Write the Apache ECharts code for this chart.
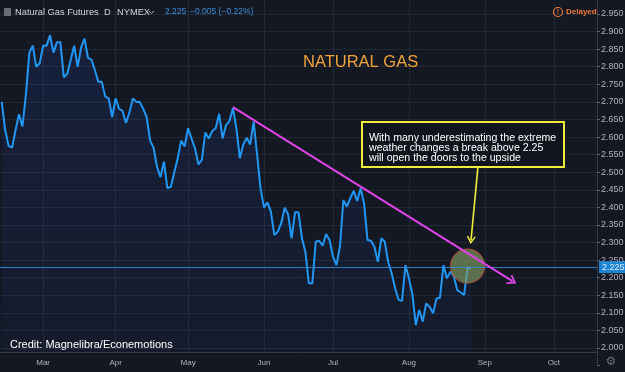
<!DOCTYPE html>
<html><head><meta charset="utf-8">
<script src="https://cdn.jsdelivr.net/npm/echarts@6/dist/echarts.min.js"></script>
<style>html,body{margin:0;padding:0;background:#141823;}#c{width:625px;height:372px;}</style>
</head><body><div id="c"></div>
<script>
// ---- data ----
const startDate = '2019-02-12';
const holidays = ['2019-02-18','2019-04-19','2019-05-27','2019-07-04','2019-09-02'];
const totalBars = 173;
const monthNames = ['Jan','Feb','Mar','Apr','May','Jun','Jul','Aug','Sep','Oct','Nov','Dec'];
const prices = [
  2.700, 2.620, 2.575, 2.570, 2.620, 2.665, 2.630, 2.720, 2.840, 2.860,
  2.800, 2.810, 2.860, 2.860, 2.890, 2.840, 2.870, 2.870, 2.770, 2.780,
  2.820, 2.860, 2.800, 2.855, 2.880, 2.825, 2.820, 2.790, 2.757, 2.757,
  2.715, 2.710, 2.657, 2.710, 2.680, 2.675, 2.640, 2.670, 2.710, 2.700,
  2.700, 2.680, 2.657, 2.590, 2.570, 2.515, 2.486, 2.530, 2.455, 2.458,
  2.500, 2.540, 2.590, 2.573, 2.625, 2.596, 2.568, 2.522, 2.535, 2.613,
  2.596, 2.617, 2.625, 2.666, 2.596, 2.634, 2.646, 2.682, 2.625, 2.540,
  2.579, 2.598, 2.579, 2.644, 2.550, 2.454, 2.400, 2.414, 2.388, 2.321,
  2.331, 2.355, 2.399, 2.380, 2.312, 2.386, 2.386, 2.312, 2.274, 2.184,
  2.184, 2.302, 2.305, 2.291, 2.324, 2.307, 2.260, 2.236, 2.288, 2.421,
  2.402, 2.426, 2.447, 2.418, 2.454, 2.412, 2.307, 2.305, 2.288, 2.245,
  2.312, 2.302, 2.244, 2.212, 2.170, 2.137, 2.134, 2.236, 2.198, 2.153,
  2.065, 2.108, 2.075, 2.127, 2.117, 2.099, 2.141, 2.143, 2.236, 2.198,
  2.217, 2.205, 2.165, 2.158, 2.151, 2.230, 2.225
];
const lastPrice = 2.225;
const lastPriceText = '2.225';
const changeText = '\u22120.005 (\u22120.22%)';
const yMin = 1.95, yMax = 3.0, yStep = 0.05;
const trendLine = [['2019-05-20', 2.685], ['2019-09-13', 2.19]];
const focusPoint = ['2019-08-26', 2.233];
const calloutArrow = [['2019-08-29', 2.515], ['2019-08-27', 2.307]];
const calloutText = 'With many underestimating the extreme\nweather changes a break above 2.25\nwill open the doors to the upside';

// ---- calendar of trading days ----
function buildDates() {
  const out = [];
  const d = new Date(startDate + 'T00:00:00Z');
  while (out.length < totalBars) {
    const dow = d.getUTCDay();
    const s = d.toISOString().slice(0, 10);
    if (dow !== 0 && dow !== 6 && holidays.indexOf(s) < 0) out.push(s);
    d.setUTCDate(d.getUTCDate() + 1);
  }
  return out;
}
const dates = buildDates();
const monthStart = dates.map((s, i) => i > 0 && s.slice(5, 7) !== dates[i - 1].slice(5, 7));
const isMonthStart = (i) => !!monthStart[i];

const bg = '#141823', gridC = '#232835', axisC = '#363a45', txtC = '#b2b5be';
const chevron = 'path://M5,0 L10,9 L8.6,10 L5,3.6 L1.4,10 L0,9 Z';
const hdrFont = {fontSize: 9.3, fontFamily: 'Liberation Sans', verticalAlign: 'middle'};

const chart = echarts.init(document.getElementById('c'), null, {renderer: 'canvas'});
chart.setOption({
  animation: false,
  backgroundColor: bg,
  grid: {left: 0, right: 28, top: -3.58, bottom: 6.42, containLabel: false, outerBoundsMode: 'none'},
  title: {
    text: 'NATURAL GAS', left: 298, top: 49,
    textStyle: {color: '#f2a33a', fontSize: 16.5, fontWeight: 'normal', fontFamily: 'Liberation Sans'}
  },
  xAxis: [
    {
      type: 'category', data: dates, boundaryGap: true, position: 'top',
      axisLine: {show: false, onZero: false}, axisTick: {show: false}, axisLabel: {show: false},
      splitLine: {show: true, interval: isMonthStart, alignWithLabel: true, lineStyle: {color: gridC, width: 1}}
    },
    {
      type: 'category', data: dates, boundaryGap: true, position: 'bottom', offset: -13.58, z: 11,
      axisLine: {show: true, onZero: false, lineStyle: {color: axisC}},
      axisTick: {show: false}, splitLine: {show: false},
      axisLabel: {
        interval: isMonthStart, margin: 7, color: txtC, fontSize: 8, fontFamily: 'Liberation Sans',
        formatter: (v) => monthNames[parseInt(v.slice(5, 7), 10) - 1]
      }
    }
  ],
  yAxis: {
    type: 'value', position: 'right', min: yMin, max: yMax, interval: yStep,
    axisLine: {show: true, lineStyle: {color: axisC}},
    axisTick: {show: true, length: 3, lineStyle: {color: '#5d616c'}},
    splitLine: {show: true, lineStyle: {color: gridC, width: 1}},
    axisLabel: {
      color: txtC, fontSize: 9, margin: 4, fontFamily: 'Liberation Sans',
      formatter: (v) => (v < 1.99 || v > 2.96) ? '' : v.toFixed(3)
    }
  },
  series: [
    {
      type: 'line', xAxisIndex: 0, z: 2, data: prices, symbol: 'none', silent: true,
      lineStyle: {color: '#2196f3', width: 2},
      areaStyle: {
        origin: 'start',
        color: new echarts.graphic.LinearGradient(0, 0, 0, 1, [
          {offset: 0, color: 'rgba(41,98,255,0.16)'},
          {offset: 1, color: 'rgba(41,98,255,0.05)'}
        ])
      },
      markLine: {
        silent: true, symbol: ['none', 'none'], animation: false,
        data: [
          {
            yAxis: lastPrice, lineStyle: {color: '#2f8fd8', width: 1, type: 'solid', opacity: 0.85},
            label: {
              show: true, position: 'end', distance: 2, formatter: lastPriceText,
              color: '#ffffff', backgroundColor: '#2196f3', fontSize: 9, padding: [2, 3, 1, 3],
              fontFamily: 'Liberation Sans'
            }
          }
        ]
      }
    },
    {
      type: 'scatter', xAxisIndex: 0, z: 3, silent: true,
      data: [focusPoint], symbolSize: 34,
      itemStyle: {color: 'rgba(132,158,100,0.82)', borderColor: '#b0553c', borderWidth: 1.2}
    },
    {
      type: 'line', xAxisIndex: 0, z: 4, data: [], symbol: 'none', silent: true,
      markLine: {
        silent: true, symbol: ['none', 'none'], animation: false,
        data: [
          [
            {coord: trendLine[0], symbol: 'none', lineStyle: {color: '#df45e6', width: 2, type: 'solid'}, label: {show: false}},
            {coord: trendLine[1], symbol: chevron, symbolSize: [11, 9]}
          ],
          [
            {coord: calloutArrow[0], symbol: 'none', lineStyle: {color: '#eeee3a', width: 1.6, type: 'solid'}, label: {show: false}},
            {coord: calloutArrow[1], symbol: chevron, symbolSize: [9, 8]}
          ]
        ]
      }
    }
  ],
  graphic: [
    {type: 'rect', z: 10, shape: {x: 0, y: 352.5, width: 597, height: 20}, style: {fill: bg}},
    {type: 'rect', z: 12, shape: {x: 4, y: 8, width: 7, height: 8}, style: {fill: '#6a6d78'}},
    {type: 'text', z: 12, x: 15, y: 12, style: Object.assign({text: 'Natural Gas Futures', fill: '#d1d4dc'}, hdrFont)},
    {type: 'text', z: 12, x: 104, y: 12, style: Object.assign({text: 'D', fill: '#d1d4dc'}, hdrFont)},
    {type: 'text', z: 12, x: 117, y: 12, style: Object.assign({text: 'NYMEX', fill: '#d1d4dc'}, hdrFont)},
    {type: 'polyline', z: 12, shape: {points: [[149, 11], [151.5, 13.5], [154, 11]]}, style: {stroke: '#b2b5be', lineWidth: 1, fill: null}},
    {type: 'text', z: 12, x: 165, y: 12, style: {text: lastPriceText, fill: '#3a8fd8', fontSize: 8.5, fontFamily: 'Liberation Sans', verticalAlign: 'middle'}},
    {type: 'text', z: 12, x: 190, y: 12, style: {text: changeText, fill: '#3a8fd8', fontSize: 8.5, fontFamily: 'Liberation Sans', verticalAlign: 'middle'}},
    {type: 'circle', z: 12, shape: {cx: 558, cy: 12, r: 4.5}, style: {stroke: '#f07a3a', lineWidth: 1.2, fill: null}},
    {type: 'text', z: 12, x: 558, y: 12.5, style: {text: '!', fill: '#f07a3a', fontSize: 7, fontWeight: 'bold', fontFamily: 'Liberation Sans', align: 'center', verticalAlign: 'middle'}},
    {type: 'text', z: 12, x: 566, y: 12, style: {text: 'Delayed', fill: '#f07a3a', fontSize: 8, fontWeight: 'bold', fontFamily: 'Liberation Sans', verticalAlign: 'middle'}},
    {type: 'text', z: 12, x: 611, y: 362, style: {text: '\u2699', fill: '#6a6d78', fontSize: 12, fontFamily: 'DejaVu Sans', align: 'center', verticalAlign: 'middle'}},
    {type: 'text', z: 12, x: 10, y: 345, style: {text: 'Credit: Magnelibra/Econemotions', fill: '#ffffff', fontSize: 11, fontFamily: 'Liberation Sans', verticalAlign: 'middle'}},
    {
      type: 'group', z: 20, x: 362, y: 122,
      children: [
        {type: 'rect', z: 20, shape: {x: 0, y: 0, width: 202, height: 45}, style: {fill: '#11141c', stroke: '#eeee3a', lineWidth: 2}},
        {type: 'text', z: 21, x: 7, y: 11, style: {text: calloutText, fill: '#ffffff', fontSize: 10.6, lineHeight: 10, fontFamily: 'Liberation Sans', verticalAlign: 'top'}}
      ]
    }
  ]
});
</script></body></html>
